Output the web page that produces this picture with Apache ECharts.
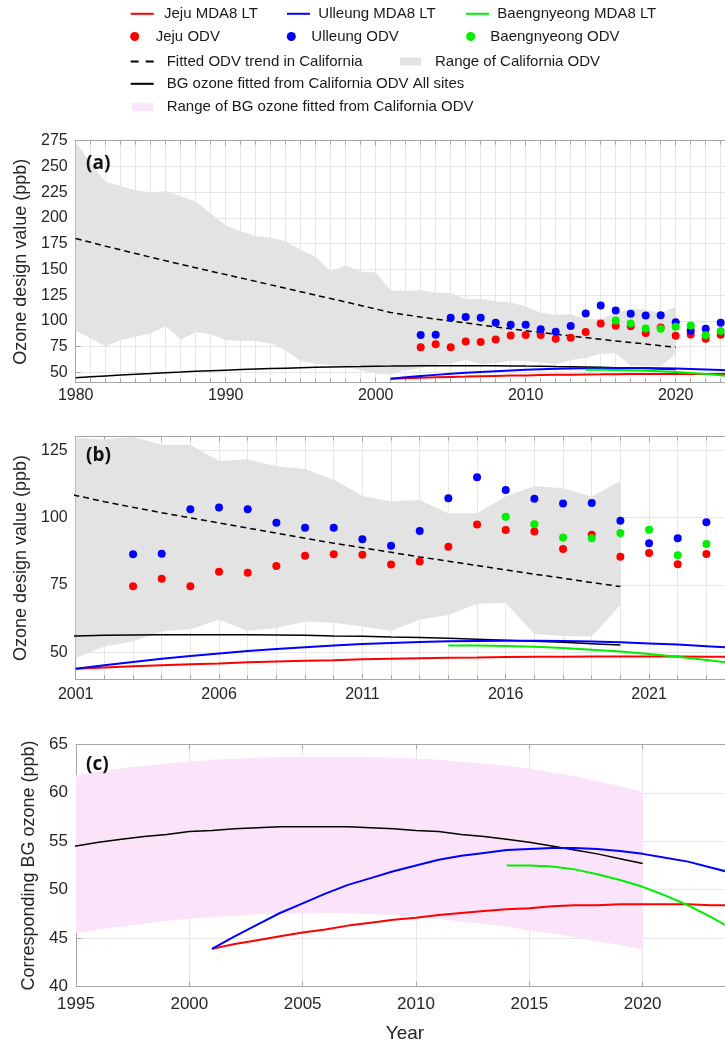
<!DOCTYPE html>
<html><head><meta charset="utf-8">
<script src="https://cdn.jsdelivr.net/npm/echarts@6/dist/echarts.min.js"></script>
<style>html,body{margin:0;padding:0;background:#fff}#c{width:725px;height:1047px}</style>
</head><body><div id="c"></div>
<script>
// ---------------- data ----------------
const caYears = [1980,1981,1982,1983,1984,1985,1986,1987,1988,1989,1990,1991,1992,1993,1994,1995,1996,1997,1998,1999,2000,
                 2001,2002,2003,2004,2005,2006,2007,2008,2009,2010,2011,2012,2013,2014,2015,2016,2017,2018,2019,2020];
const caUpper = [274,253,235,231,227,225,226,221,216,204,193,187,182,181,177,169,162,148,154,148,147,
                 129.5,129,130,127,127,121,121.6,119,118,114,108,106,106.5,101.6,101.6,107.8,111.7,110.9,107.8,113.6];
const caLower = [91,83,75.5,81.5,84.5,88,95,82,89,87,81.5,80.5,80.5,78,71.5,61,58.5,57,56,52,49,
                 47.9,52.2,54.0,57.7,58.6,62.1,58.0,59.0,61.4,61.0,59.6,58.0,62.1,63.9,68.0,68.3,56.8,56.1,55.9,67.6];
const caFit = [180.0,176.3,172.6,169.0,165.4,161.9,158.4,155.0,151.6,148.3,145.0,141.7,138.4,135.0,131.7,128.4,125.0,121.7,118.4,115.0,111.6,
               108.2,105.9,103.8,101.8,99.9,98.0,96.1,94.2,92.3,90.5,88.8,87.1,85.4,83.8,82.2,80.6,79.0,77.5,75.9,74.4];
const bgFit = [44.8,45.7,46.6,47.4,48.2,48.9,49.7,50.3,51.0,51.6,52.2,52.7,53.2,53.7,54.1,54.5,54.9,55.2,55.5,55.7,56.0,
               56.1,56.3,56.4,56.5,56.5,56.5,56.5,56.4,56.3,56.1,56.0,55.7,55.5,55.2,54.9,54.5,54.1,53.7,53.2,52.7];

const bandYears = [1995,1996,1997,1998,1999,2000,2001,2002,2003,2004,2005,2006,2007,2008,2009,2010,2011,2012,2013,2014,2015,2016,2017,2018,2019,2020];
const bgUpper = [61.8,62.2,62.5,62.8,63.0,63.2,63.4,63.5,63.6,63.7,63.7,63.7,63.7,63.7,63.6,63.5,63.4,63.2,63.0,62.8,62.5,62.1,61.7,61.2,60.7,60.1];
const bgLower = [45.5,45.9,46.2,46.5,46.8,47.0,47.2,47.3,47.5,47.5,47.6,47.6,47.6,47.5,47.4,47.2,47.0,46.7,46.5,46.2,45.8,45.5,45.1,44.7,44.3,43.8];

const ltYears = [2001,2002,2003,2004,2005,2006,2007,2008,2009,2010,2011,2012,2013,2014,2015,2016,2017,2018,2019,2020,2021,2022,2023,2024];
const jejuLT = [43.9,44.4,44.8,45.2,45.6,45.9,46.3,46.6,46.9,47.1,47.4,47.6,47.8,48.0,48.1,48.3,48.4,48.4,48.5,48.5,48.5,48.5,48.4,48.4];
const ulleungLT = [43.9,45.2,46.4,47.6,48.6,49.6,50.5,51.2,51.9,52.5,53.1,53.5,53.8,54.1,54.2,54.3,54.3,54.2,54.0,53.7,53.3,52.9,52.3,51.7];
const baengYearsLT = [2014,2015,2016,2017,2018,2019,2020,2021,2022,2023,2024];
const baengLT = [52.5,52.5,52.4,52.1,51.6,51.0,50.3,49.4,48.4,47.2,45.9];

const odvYears = [2003,2004,2005,2006,2007,2008,2009,2010,2011,2012,2013,2014,2015,2016,2017,2018,2019,2020,2021,2022,2023];
const jejuOdv = [74.5,77.3,74.5,79.9,79.5,82.0,85.8,86.4,86.2,82.6,83.7,89.2,97.4,95.4,94.8,88.3,93.6,85.5,86.9,82.7,86.5];
const ulleungOdv = [86.4,86.6,103.1,103.7,103.1,98.1,96.2,96.2,92.0,89.5,95.0,107.2,115.0,110.2,107.0,105.2,105.4,98.8,90.5,92.3,98.3];
const baengOdvYears = [2016,2017,2018,2019,2020,2021,2022,2023];
const baengOdv = [100.3,97.5,92.6,92.3,94.3,95.5,86.0,90.2];

const yTicksA = [50,75,100,125,150,175,200,225,250,275];
const yTicksB = [50,75,100,125];

// ---------------- helpers ----------------
const pairs = (xs, ys) => xs.map((x, i) => [x, ys[i]]);
const FONT = 'Liberation Sans';
const AX = '#a6a6a6', LBL = '#262626', GRID = '#e6e6e6';
const RED = '#ff0000', BLUE = '#0000ff', GREEN = '#00ee00';
const GRAY = '#e3e3e3', PINK = '#fbe3fa';

function xAxes(gi, min, max, interval, minor, fs, margin) {
  const base = {type: 'value', gridIndex: gi, min, max, interval,
    axisLine: {show: true, onZero: false, lineStyle: {color: AX, width: 1}},
    axisTick: {show: true, inside: true, length: 5, lineStyle: {color: AX}},
    minorTick: minor ? {show: true, splitNumber: minor, length: 4, lineStyle: {color: AX}} : {show: false}};
  return [
    Object.assign({}, base, {position: 'bottom',
      axisLabel: {show: true, fontSize: fs, color: LBL, margin, fontFamily: FONT, formatter: v => String(v)},
      splitLine: {show: true, lineStyle: {color: GRID, width: 1}},
      minorSplitLine: minor ? {show: true, lineStyle: {color: GRID, width: 1}} : {show: false}}),
    Object.assign({}, base, {position: 'top', axisLabel: {show: false}, splitLine: {show: false}})
  ];
}
function yAxis(gi, min, max, opts) {
  const a = {type: 'value', gridIndex: gi, min, max, position: 'left',
    axisLine: {show: true, onZero: false, lineStyle: {color: AX}},
    axisTick: {show: true, inside: true, length: 5, lineStyle: {color: AX}},
    axisLabel: {fontSize: opts.fs, color: LBL, margin: 8, fontFamily: FONT, formatter: v => String(v)},
    splitLine: {show: true, lineStyle: {color: GRID}},
    name: opts.name, nameLocation: 'middle', nameGap: opts.gap,
    nameTextStyle: {fontSize: 18, color: LBL, fontFamily: FONT}};
  if (opts.interval) a.interval = opts.interval;
  if (opts.ticks) { a.axisLabel.customValues = opts.ticks; a.axisTick.customValues = opts.ticks; }
  return a;
}
function line(name, xi, yi, data, color, width, extra) {
  return Object.assign({type: 'line', name, xAxisIndex: xi, yAxisIndex: yi, data,
    symbol: 'none', showSymbol: false, smooth: false, silent: true,
    lineStyle: {color, width}, itemStyle: {color}, z: 3}, extra || {});
}
// shaded range drawn as one polygon through the axes' own coordinate mapping
function band(name, xi, yi, xs, lo, hi, color, xmin) {
  const data = xs.map((x, i) => [x, lo[i], hi[i]]).filter(d => d[0] >= xmin);
  return {type: 'custom', name, xAxisIndex: xi, yAxisIndex: yi, data, clip: true, silent: true, z: 1,
    itemStyle: {color}, encode: {x: 0, y: [1, 2]},
    renderItem: (params, api) => {
      if (params.dataIndex !== 0) return null;
      const top = data.map(d => api.coord([d[0], d[2]]));
      const bot = data.map(d => api.coord([d[0], d[1]])).reverse();
      return {type: 'polygon', shape: {points: top.concat(bot)}, style: {fill: color}, silent: true};
    }};
}
function dots(name, xi, yi, data, color) {
  return {type: 'scatter', name, xAxisIndex: xi, yAxisIndex: yi, data, symbolSize: 8,
    itemStyle: {color, opacity: 1}, silent: true, z: 5};
}
function panelSeries(xi, yi, xmin) {
  return [
    band('Range of California ODV', xi, yi, caYears, caLower, caUpper, GRAY, xmin),
    line('Fitted ODV trend in California', xi, yi, pairs(caYears, caFit), '#000', 1.5, {lineStyle: {color: '#000', width: 1.5, type: [6, 4]}}),
    line('BG ozone fitted from California ODV All sites', xi, yi, pairs(caYears, bgFit), '#000', 1.5),
    line('Jeju MDA8 LT', xi, yi, pairs(ltYears, jejuLT), RED, 2),
    line('Ulleung MDA8 LT', xi, yi, pairs(ltYears, ulleungLT), BLUE, 2),
    line('Baengnyeong MDA8 LT', xi, yi, pairs(baengYearsLT, baengLT), GREEN, 2),
    dots('Jeju ODV', xi, yi, pairs(odvYears, jejuOdv), RED),
    dots('Ulleung ODV', xi, yi, pairs(odvYears, ulleungOdv), BLUE),
    dots('Baengnyeong ODV', xi, yi, pairs(baengOdvYears, baengOdv), GREEN)
  ];
}

// ---------------- legends ----------------
const DASH = 'path://M0,0h8v2h-8zM15,0h8v2h-8z';
const legendDefs = [
  {name: 'Jeju MDA8 LT', left: 130.7, cy: 13.3, pad: 5.3, icon: 'rect', h: 2, color: RED},
  {name: 'Ulleung MDA8 LT', left: 287, cy: 13.3, pad: 3.3, icon: 'rect', h: 2, color: BLUE},
  {name: 'Baengnyeong MDA8 LT', left: 466, cy: 13.3, pad: 3.3, icon: 'rect', h: 2, color: GREEN},
  {name: 'Jeju ODV', left: 130.2, cy: 36, pad: 4.5, icon: 'circle', h: 9, color: RED},
  {name: 'Ulleung ODV', left: 286.8, cy: 36, pad: 3.5, icon: 'circle', h: 9, color: BLUE},
  {name: 'Baengnyeong ODV', left: 466.2, cy: 36, pad: 3.1, icon: 'circle', h: 9, color: GREEN},
  {name: 'Fitted ODV trend in California', left: 130.7, cy: 61, pad: 8, icon: DASH, h: 2, color: '#000'},
  {name: 'Range of California ODV', left: 400, cy: 61, pad: 9, icon: 'rect', w: 21, h: 8, color: GRAY},
  {name: 'BG ozone fitted from California ODV All sites', left: 130.7, cy: 83.3, pad: 8, icon: 'rect', h: 2, color: '#000'},
  {name: 'Range of BG ozone fitted from California ODV', left: 131.7, cy: 106.7, pad: 8.4, icon: 'rect', w: 21.6, h: 8, color: PINK}
];
const legends = legendDefs.map(d => ({
  show: true, left: d.left, top: d.cy - 7, padding: 0, orient: 'horizontal',
  itemWidth: d.w || 23, itemHeight: d.h, selectedMode: false, symbolKeepAspect: false,
  textStyle: {fontSize: 15, color: '#1a1a1a', fontFamily: FONT, lineHeight: 14, padding: [0, 0, 0, d.pad]},
  data: [{name: d.name, icon: d.icon, itemStyle: {color: d.color, opacity: 1, borderWidth: 0}}]
}));

// ---------------- option ----------------
const option = {
  animation: false,
  backgroundColor: '#fff',
  textStyle: {fontFamily: FONT},
  legend: legends,
  title: [
    {text: '(a)', left: 86, top: 154, padding: 0, textStyle: {fontSize: 19, fontWeight: 'bold', fontFamily: 'Open Sans', color: '#111'}},
    {text: '(b)', left: 86, top: 446, padding: 0, textStyle: {fontSize: 19, fontWeight: 'bold', fontFamily: 'Open Sans', color: '#111'}},
    {text: '(c)', left: 86, top: 755, padding: 0, textStyle: {fontSize: 19, fontWeight: 'bold', fontFamily: 'Open Sans', color: '#111'}}
  ],
  grid: [
    {left: 75.7, top: 140.7, width: 750, height: 242, containLabel: false, outerBoundsMode: 'none'},
    {left: 75.7, top: 436.7, width: 716.7, height: 242.6, containLabel: false, outerBoundsMode: 'none'},
    {left: 76, top: 744.3, width: 680, height: 242.4, containLabel: false, outerBoundsMode: 'none'}
  ],
  xAxis: [].concat(
    xAxes(0, 1980, 2030, 10, 10, 16, 5),
    xAxes(1, 2001, 2026, 5, 5, 16, 7),
    xAxes(2, 1995, 2025, 5, 0, 17, 9)
  ),
  yAxis: [
    yAxis(0, 40, 275, {fs: 16, ticks: yTicksA, name: 'Ozone design value (ppb)', gap: 42}),
    yAxis(1, 40, 130, {fs: 16, ticks: yTicksB, name: 'Ozone design value (ppb)', gap: 42}),
    yAxis(2, 40, 65, {fs: 17, interval: 5, name: 'Corresponding BG ozone (ppb)', gap: 38})
  ],
  series: [].concat(
    panelSeries(0, 0, 1980),
    panelSeries(2, 1, 2001),
    [
      band('Range of BG ozone fitted from California ODV', 4, 2, bandYears, bgLower, bgUpper, PINK, 1995),
      line('BG ozone fitted from California ODV All sites', 4, 2, pairs(caYears, bgFit), '#000', 1.5),
      line('Jeju MDA8 LT', 4, 2, pairs(ltYears, jejuLT), RED, 2),
      line('Ulleung MDA8 LT', 4, 2, pairs(ltYears, ulleungLT), BLUE, 2),
      line('Baengnyeong MDA8 LT', 4, 2, pairs(baengYearsLT, baengLT), GREEN, 2)
    ]
  )
};
option.xAxis[4].name = 'Year';
option.xAxis[4].nameLocation = 'middle';
option.xAxis[4].nameGap = 38;
option.xAxis[4].nameTextStyle = {fontSize: 19, color: LBL, fontFamily: FONT, padding: [0, 22, 0, 0]};

const chart = echarts.init(document.getElementById('c'));
chart.setOption(option);
</script>
</body></html>
